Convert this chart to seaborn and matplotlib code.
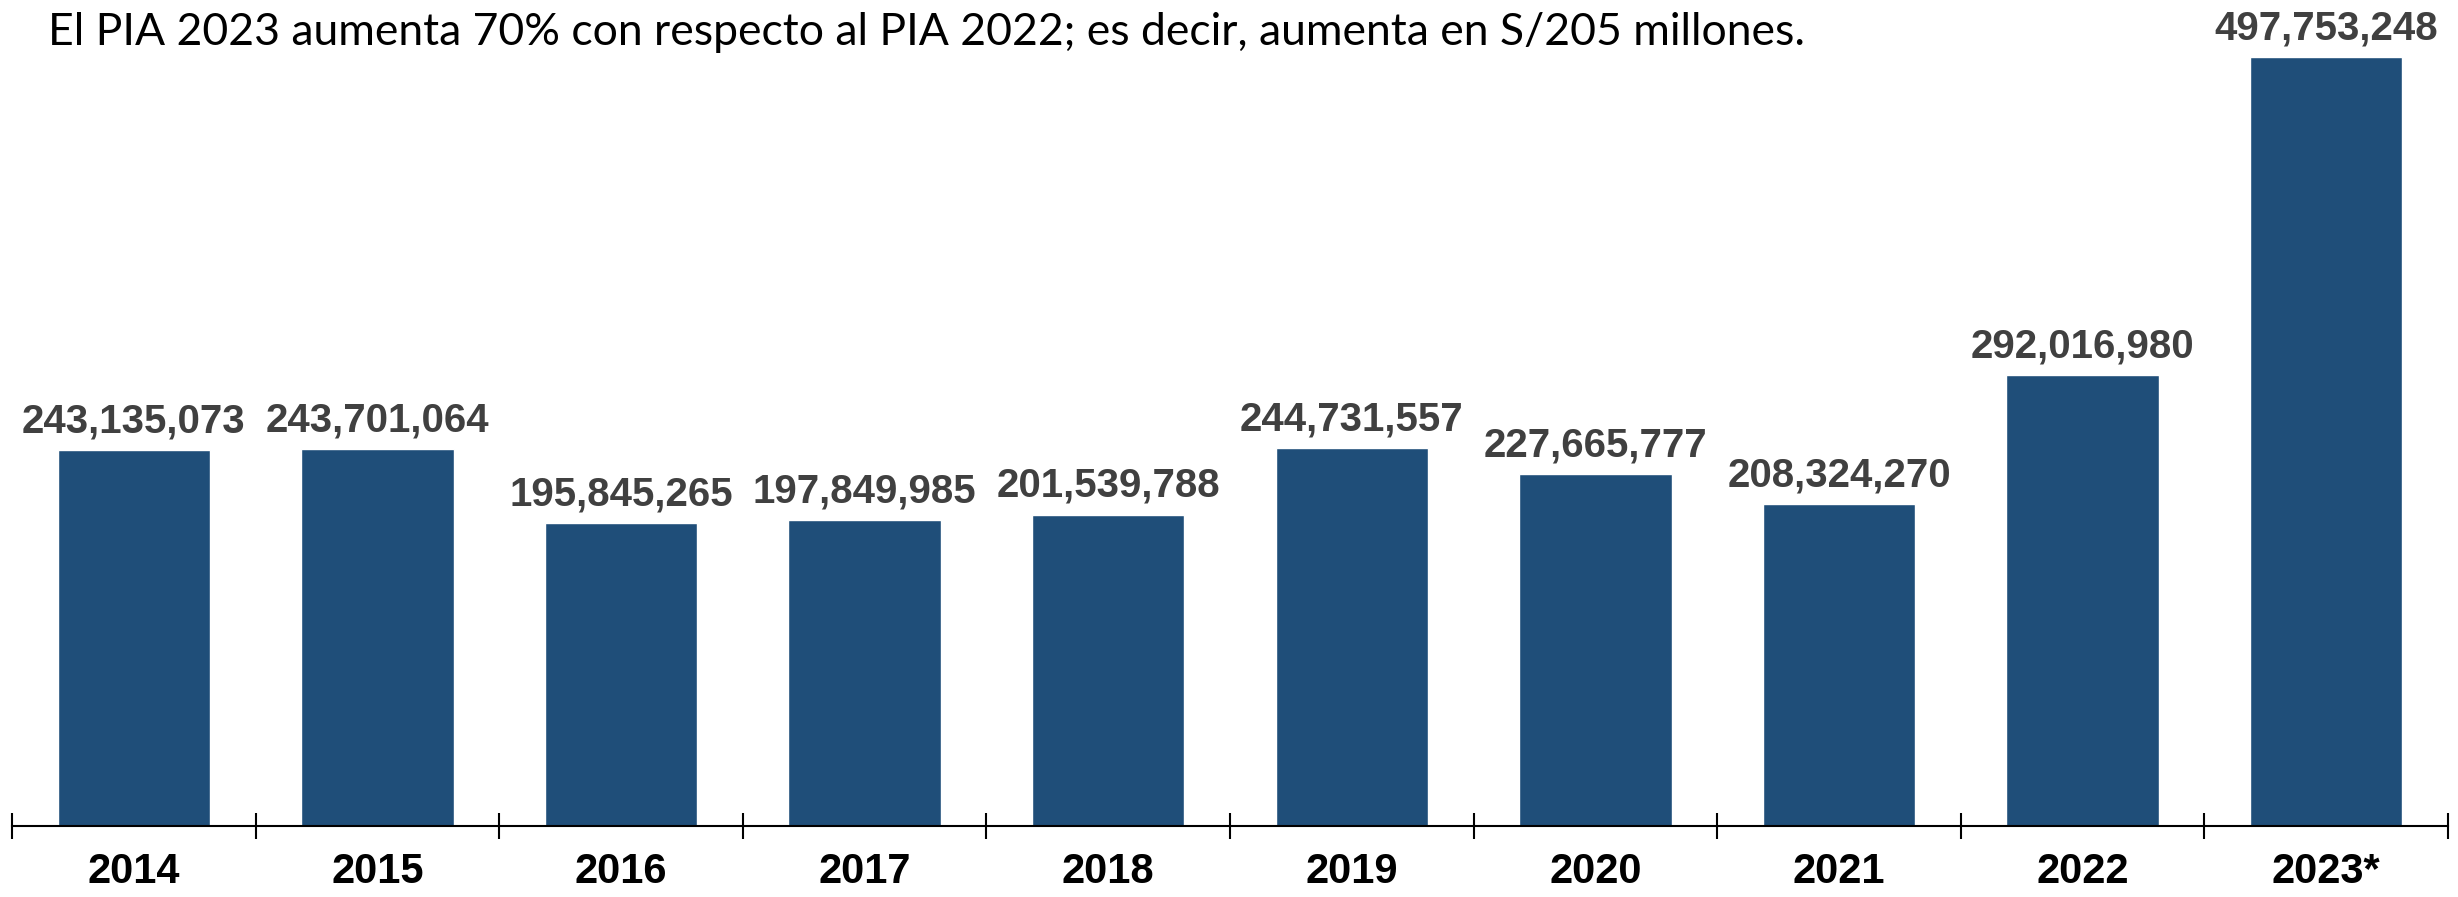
import matplotlib
matplotlib.use("Agg")
import matplotlib.pyplot as plt
import numpy as np
import pandas as pd
import seaborn as sns

years = ["2014", "2015", "2016", "2017", "2018", "2019", "2020", "2021", "2022", "2023*"]
pia = [243135073, 243701064, 195845265, 197849985, 201539788,
       244731557, 227665777, 208324270, 292016980, 497753248]
title = "El PIA 2023 aumenta 70% con respecto al PIA 2022; es decir, aumenta en S/205 millones."

sns.set_style("white")
plt.rcParams["font.family"] = ["Liberation Sans", "DejaVu Sans"]

df = pd.DataFrame({"year": years, "pia": pia})

W, H, DPI = 2458, 897, 100
fig = plt.figure(figsize=(W / DPI, H / DPI), dpi=DPI)
ax = fig.add_axes([12 / W, 71 / H, (2448 - 12) / W, (826 - 0) / H])

sns.barplot(data=df, x="year", y="pia", color="#1f4e79", saturation=1,
            width=0.625, ax=ax)

ax.set_xlim(-0.5, 9.5)
ax.set_ylim(0, 534.6e6)

for i, v in enumerate(pia):
    ax.annotate(f"{v:,}", (i, v), xytext=(0, 7), textcoords="offset points",
                ha="center", va="bottom", fontsize=29, fontweight="bold",
                color="#404040")

for s in ["top", "right", "left"]:
    ax.spines[s].set_visible(False)
ax.spines["bottom"].set_linewidth(1.5)
ax.spines["bottom"].set_color("black")

ax.set_yticks([])
ax.set_xlabel("")
ax.set_ylabel("")
ax.set_xticks(np.arange(len(years)))
ax.set_xticklabels(years, fontsize=30, fontweight="bold", color="black")
ax.tick_params(axis="x", which="major", bottom=True, length=0, pad=19)
ax.set_xticks(np.arange(-0.5, len(years), 1.0), minor=True)
ax.tick_params(axis="x", which="minor", bottom=True, direction="inout", length=19,
               width=1.5, color="black")

fig.text(48 / W, 1 - 45 / H, title, fontsize=32, family=["Lato", "DejaVu Sans"],
         ha="left", va="baseline", color="black")

fig.savefig("out.png", dpi=DPI)
